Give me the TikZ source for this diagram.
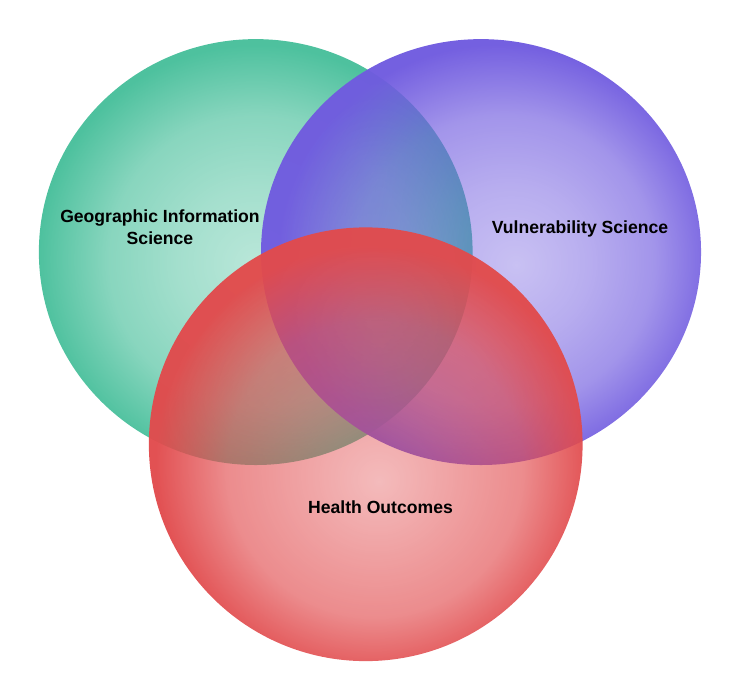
\documentclass[tikz,border=0pt]{standalone}
\usepackage{fontspec}
\setmainfont{Liberation Sans}
\usetikzlibrary{fadings}
\definecolor{gCol}{RGB}{72,191,155}
\definecolor{pCol}{RGB}{112,91,223}
\definecolor{rCol}{RGB}{225,75,77}
\pgfdeclareradialshading{gfadeshd}{\pgfpoint{0bp}{-1.5bp}}{color(0bp)=(white!38!black); color(9bp)=(white!50!black); color(17bp)=(white!65!black); color(25bp)=(white!97!black); color(50bp)=(white!97!black)}
\pgfdeclareradialshading{pfadeshd}{\pgfpoint{4bp}{-1.5bp}}{color(0bp)=(white!38!black); color(9bp)=(white!50!black); color(17bp)=(white!65!black); color(25bp)=(white!97!black); color(50bp)=(white!97!black)}
\pgfdeclareradialshading{rfadeshd}{\pgfpoint{1.5bp}{-4.3bp}}{color(0bp)=(white!38!black); color(9bp)=(white!52!black); color(17bp)=(white!64!black); color(25bp)=(white!97!black); color(50bp)=(white!97!black)}
\pgfdeclarefading{gfade}{\pgfuseshading{gfadeshd}}
\pgfdeclarefading{pfade}{\pgfuseshading{pfadeshd}}
\pgfdeclarefading{rfade}{\pgfuseshading{rfadeshd}}
\tikzset{
  lbl/.style={font=\fontsize{17.6}{21.5}\selectfont\bfseries, text=black, inner sep=0pt, align=center}
}
\begin{document}
\begin{tikzpicture}[x=1pt,y=-1pt]
\useasboundingbox (0,0) rectangle (740,700);
\fill[gCol, path fading=gfade] (256,252) ellipse [x radius=217pt, y radius=213pt];
\fill[pCol, path fading=pfade] (481,252) ellipse [x radius=220pt, y radius=213pt];
\fill[rCol, path fading=rfade] (366,444) ellipse [x radius=217pt, y radius=217pt];
\node[lbl, anchor=base] (gis) at (160,244.5) {Geographic Information\\Science};
\node[lbl, anchor=base] (vul) at (580,233.3) {Vulnerability Science};
\node[lbl, anchor=base] (hea) at (380.5,513.3) {Health Outcomes};
\end{tikzpicture}
\end{document}
